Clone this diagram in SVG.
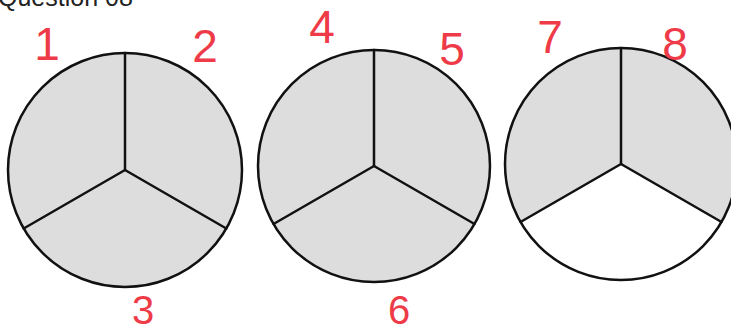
<svg xmlns="http://www.w3.org/2000/svg" width="731" height="332" viewBox="0 0 731 332">
  <style>
    .pie { fill: #dddddd; stroke: #111; stroke-width: 2.5; }
    .sec { fill: #dddddd; stroke: none; }
    .rim { fill: none; stroke: #111; stroke-width: 2.5; }
    .spoke { stroke: #111; stroke-width: 2.5; stroke-linecap: round; fill: none; }
    .lbl { font-family: "Liberation Sans", Arial, sans-serif; font-size: 46px; fill: #ee3b47; text-anchor: middle; }
    .lbl.low { font-size: 40px; }
    .title { font-family: "Liberation Sans", Arial, sans-serif; font-size: 25px; fill: #222; }
  </style>
  <rect width="731" height="332" fill="#ffffff"/>
  <text class="title" x="-2" y="6">Question 08</text>

  <g id="circle1">
    <circle class="pie" cx="125" cy="170" r="117"/>
    <g class="spoke">
      <line x1="125" y1="170" x2="125" y2="53"/>
      <line x1="125" y1="170" x2="226.3" y2="228.5"/>
      <line x1="125" y1="170" x2="23.7" y2="228.5"/>
    </g>
  </g>

  <g id="circle2">
    <circle class="pie" cx="374" cy="166" r="116"/>
    <g class="spoke">
      <line x1="374" y1="166" x2="374" y2="50"/>
      <line x1="374" y1="166" x2="474.5" y2="224"/>
      <line x1="374" y1="166" x2="273.5" y2="224"/>
    </g>
  </g>

  <g id="circle3">
    <circle cx="621" cy="164" r="116" fill="#ffffff"/>
    <path class="sec" d="M621,164 L621,48 A116,116 0 0 1 721.5,222 Z"/>
    <path class="sec" d="M621,164 L520.5,222 A116,116 0 0 1 621,48 Z"/>
    <circle class="rim" cx="621" cy="164" r="116"/>
    <g class="spoke">
      <line x1="621" y1="164" x2="621" y2="48"/>
      <line x1="621" y1="164" x2="721.5" y2="222"/>
      <line x1="621" y1="164" x2="520.5" y2="222"/>
    </g>
  </g>

  <g id="labels">
    <text class="lbl" x="47" y="60">1</text>
    <text class="lbl" x="205" y="62">2</text>
    <text class="lbl low" x="143" y="324">3</text>
    <text class="lbl" x="322" y="43">4</text>
    <text class="lbl" x="452" y="65">5</text>
    <text class="lbl low" x="399" y="324">6</text>
    <text class="lbl" x="550" y="53">7</text>
    <text class="lbl" x="675" y="60">8</text>
  </g>
</svg>
